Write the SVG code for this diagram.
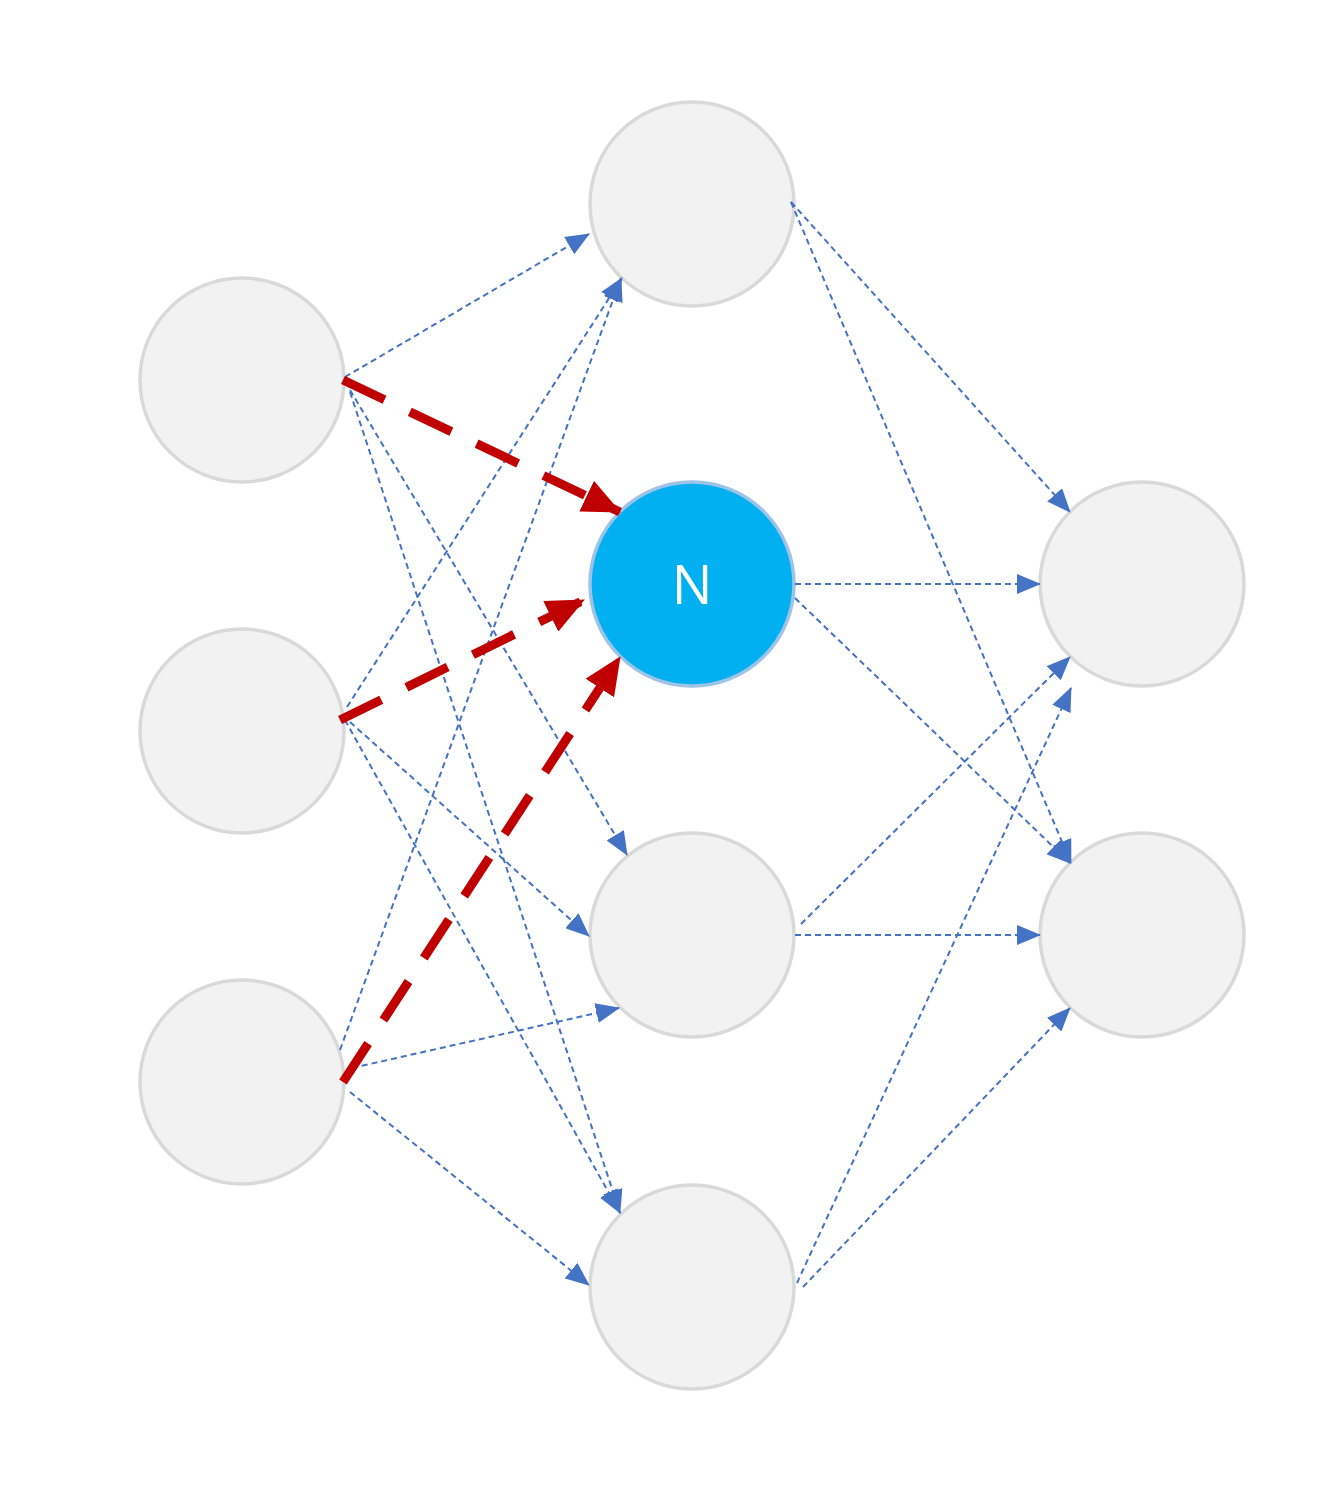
<svg xmlns="http://www.w3.org/2000/svg" width="1320" height="1488" viewBox="0 0 1320 1488">
<style>
.node{fill:#F2F2F2;stroke:#D9D9D9;stroke-width:3.5}
.hl{fill:#00B0F0;stroke:#9DC3E6;stroke-width:3.5}
.lbl{font-family:"Open Sans","Liberation Sans",sans-serif;font-size:54px;fill:#FFFFFF;text-anchor:middle}
.b{stroke:#4472C4;stroke-width:2;stroke-dasharray:6 4;fill:none;marker-end:url(#ab)}
.r{stroke:#C00000;stroke-width:9;stroke-dasharray:46 28;fill:none;marker-end:url(#ar)}
</style>
<defs>
<marker id="ab" markerUnits="userSpaceOnUse" markerWidth="24" markerHeight="20" refX="23" refY="10" orient="auto"><path d="M0,0 L24,10 L0,20 z" fill="#4472C4"/></marker>
<marker id="ar" markerUnits="userSpaceOnUse" markerWidth="38" markerHeight="34" refX="37" refY="17" orient="auto"><path d="M0,0 L38,17 L0,34 z" fill="#C00000"/></marker>
</defs>
<rect width="1320" height="1488" fill="#FFFFFF"/>
<g id="i1"><circle class="node" cx="242" cy="380" r="102"/></g>
<g id="i2"><circle class="node" cx="242" cy="731" r="102"/></g>
<g id="i3"><circle class="node" cx="242" cy="1082" r="102"/></g>
<g id="h1"><circle class="node" cx="692" cy="204" r="102"/></g>
<g id="n"><circle class="hl" cx="692" cy="584" r="102"/><text class="lbl" x="692" y="604">N</text></g>
<g id="h3"><circle class="node" cx="692" cy="935" r="102"/></g>
<g id="h4"><circle class="node" cx="692" cy="1287" r="102"/></g>
<g id="o1"><circle class="node" cx="1142" cy="584" r="102"/></g>
<g id="o2"><circle class="node" cx="1142" cy="935" r="102"/></g>
<g id="connectors">
<line class="b" x1="345" y1="377" x2="589" y2="234"/>
<line class="b" x1="350" y1="390" x2="627" y2="855"/>
<line class="b" x1="350" y1="392" x2="620" y2="1213"/>
<line class="b" x1="347" y1="707" x2="622" y2="278"/>
<line class="b" x1="350" y1="722" x2="589" y2="936"/>
<line class="b" x1="345" y1="720" x2="620" y2="1213"/>
<line class="b" x1="340" y1="1050" x2="621" y2="278"/>
<line class="b" x1="352" y1="1068" x2="619" y2="1008"/>
<line class="b" x1="350" y1="1092" x2="589" y2="1285"/>
<line class="b" x1="791" y1="202" x2="1070" y2="512"/>
<line class="b" x1="791" y1="202" x2="1071" y2="863"/>
<line class="b" x1="795" y1="584" x2="1040" y2="584"/>
<line class="b" x1="795" y1="598" x2="1070" y2="863"/>
<line class="b" x1="801" y1="924" x2="1070" y2="657"/>
<line class="b" x1="795" y1="935" x2="1040" y2="935"/>
<line class="b" x1="797" y1="1283" x2="1071" y2="688"/>
<line class="b" x1="803" y1="1287" x2="1070" y2="1008"/>
<line class="r" x1="343" y1="380" x2="620" y2="512"/>
<line class="r" x1="340" y1="720" x2="584" y2="600"/>
<line class="r" x1="343" y1="1082" x2="620" y2="657"/>
</g>
</svg>
